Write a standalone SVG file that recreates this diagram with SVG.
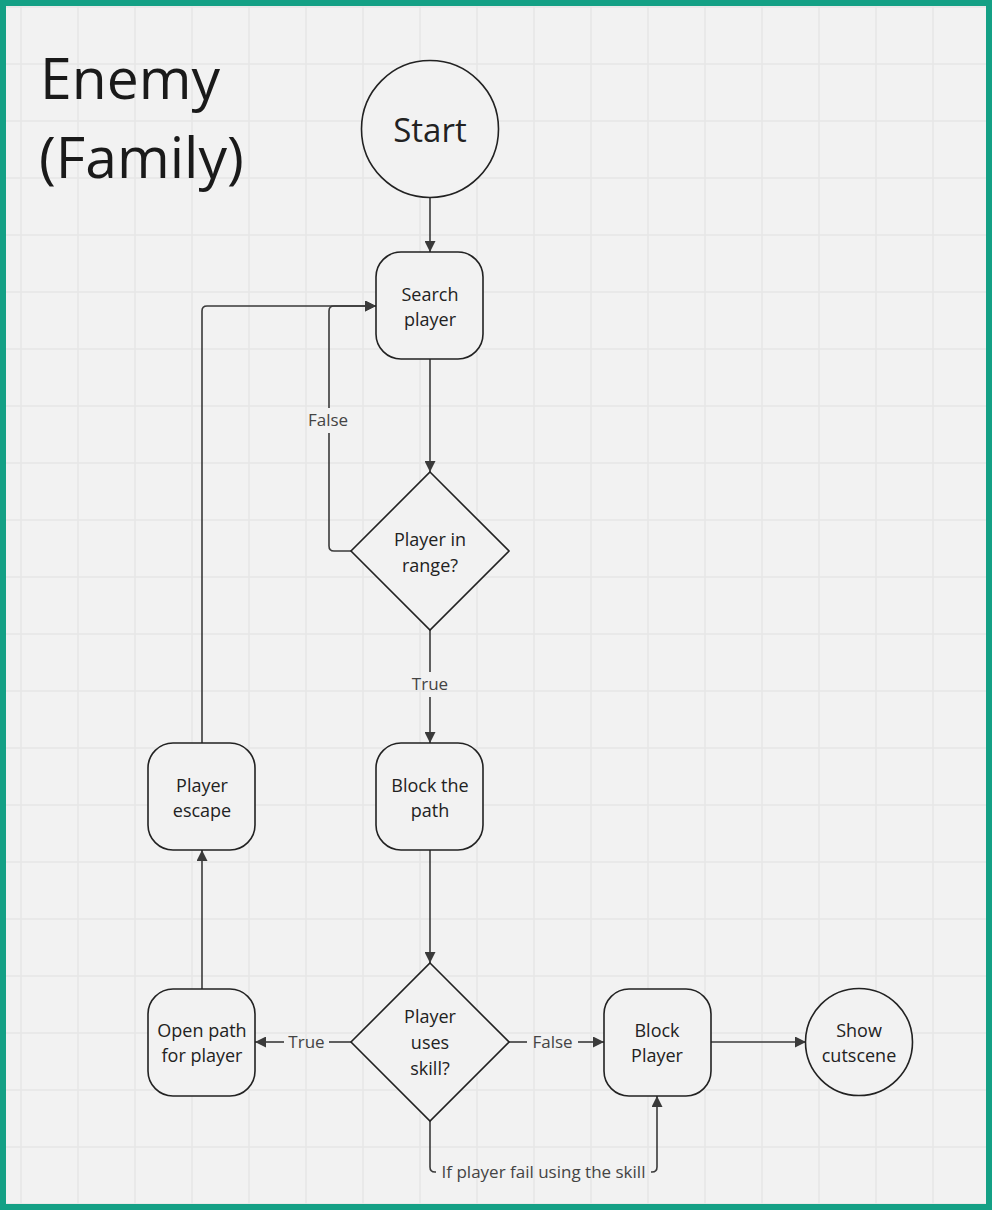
<svg xmlns="http://www.w3.org/2000/svg" width="992" height="1210" viewBox="0 0 992 1210">
<defs>
<style>
.bg{fill:#f2f2f2}
.grid{stroke:#e6e6e6;stroke-width:1.5;fill:none}
.frame{fill:none;stroke:#14a085;stroke-width:6}
.shape{fill:#f2f2f2;stroke:#222;stroke-width:1.6}
.txt{font-family:"Open Sans","Noto Sans","Liberation Sans",sans-serif;fill:#222;text-anchor:middle}
.n{font-size:18px}
.lbl{font-family:"Open Sans","Noto Sans","Liberation Sans",sans-serif;font-size:17px;fill:#444;text-anchor:middle}
.title{font-family:"Open Sans","Noto Sans","Liberation Sans",sans-serif;font-size:57px;fill:#1a1a1a}
.con{fill:none;stroke:#3a3a3a;stroke-width:1.6}
</style>
<marker id="ah" viewBox="0 0 10 10" refX="10" refY="5" markerWidth="11" markerHeight="11" markerUnits="userSpaceOnUse" orient="auto">
<path d="M0 0 L10 5 L0 10 Z" fill="#3a3a3a"/>
</marker>
</defs>
<rect class="bg" x="0" y="0" width="992" height="1210"/>
<g id="grid" class="grid">
<path d="M21 0V1210M78 0V1210M135 0V1210M192 0V1210M249 0V1210M306 0V1210M363 0V1210M420 0V1210M477 0V1210M534 0V1210M591 0V1210M648 0V1210M705 0V1210M762 0V1210M819 0V1210M876 0V1210M933 0V1210M990 0V1210"/>
<path d="M0 7H992M0 64H992M0 121H992M0 178H992M0 235H992M0 292H992M0 349H992M0 406H992M0 463H992M0 520H992M0 577H992M0 634H992M0 691H992M0 748H992M0 805H992M0 862H992M0 919H992M0 976H992M0 1033H992M0 1090H992M0 1147H992M0 1204H992"/>
</g>
<rect class="frame" x="3" y="3" width="986" height="1204"/>
<g id="title">
<text class="title" x="40" y="99">Enemy</text>
<text class="title" x="39" y="178">(Family)</text>
</g>
<g id="connectors">
<path class="con" d="M430 197V252" marker-end="url(#ah)"/>
<path class="con" d="M430 359V472" marker-end="url(#ah)"/>
<path class="con" d="M351 551H334Q329 551 329 546V433"/>
<path class="con" d="M329 408V311Q329 306 334 306H376" marker-end="url(#ah)"/>
<path class="con" d="M430 630V672"/>
<path class="con" d="M430 697V743" marker-end="url(#ah)"/>
<path class="con" d="M430 850V963" marker-end="url(#ah)"/>
<path class="con" d="M202 743V311Q202 306 207 306H376" marker-end="url(#ah)"/>
<path class="con" d="M202 989V850" marker-end="url(#ah)"/>
<path class="con" d="M351 1042H329"/>
<path class="con" d="M284 1042H255" marker-end="url(#ah)"/>
<path class="con" d="M509 1042H527"/>
<path class="con" d="M578 1042H604" marker-end="url(#ah)"/>
<path class="con" d="M711 1042H806" marker-end="url(#ah)"/>
<path class="con" d="M430 1121V1167Q430 1172 435 1172H436"/>
<path class="con" d="M651 1172H652Q657 1172 657 1167V1096" marker-end="url(#ah)"/>
<text class="lbl" x="328" y="426">False</text>
<text class="lbl" x="430" y="690">True</text>
<text class="lbl" x="306.5" y="1048">True</text>
<text class="lbl" x="552.5" y="1048">False</text>
<text class="lbl" x="543.5" y="1178">If player fail using the skill</text>
</g>
<g id="start">
<circle class="shape" cx="430" cy="129" r="68.5"/>
<text class="txt" x="430" y="142" font-size="33">Start</text>
</g>
<g id="search-player">
<rect class="shape" x="376" y="252" width="107" height="107" rx="25"/>
<text class="txt n" x="430" y="301">Search</text>
<text class="txt n" x="430" y="326">player</text>
</g>
<g id="player-in-range">
<polygon class="shape" points="430,472 509,551 430,630 351,551"/>
<text class="txt n" x="430" y="546">Player in</text>
<text class="txt n" x="430" y="572">range?</text>
</g>
<g id="block-the-path">
<rect class="shape" x="376" y="743" width="107" height="107" rx="25"/>
<text class="txt n" x="430" y="792">Block the</text>
<text class="txt n" x="430" y="817">path</text>
</g>
<g id="player-escape">
<rect class="shape" x="148" y="743" width="107" height="107" rx="25"/>
<text class="txt n" x="202" y="792">Player</text>
<text class="txt n" x="202" y="817">escape</text>
</g>
<g id="player-uses-skill">
<polygon class="shape" points="430,963 509,1042 430,1121 351,1042"/>
<text class="txt n" x="430" y="1023">Player</text>
<text class="txt n" x="430" y="1049">uses</text>
<text class="txt n" x="430" y="1075">skill?</text>
</g>
<g id="open-path">
<rect class="shape" x="148" y="989" width="107" height="107" rx="25"/>
<text class="txt n" x="202" y="1037">Open path</text>
<text class="txt n" x="202" y="1062">for player</text>
</g>
<g id="block-player">
<rect class="shape" x="604" y="989" width="107" height="107" rx="25"/>
<text class="txt n" x="657" y="1037">Block</text>
<text class="txt n" x="657" y="1062">Player</text>
</g>
<g id="show-cutscene">
<circle class="shape" cx="859" cy="1042" r="53.5"/>
<text class="txt n" x="859" y="1037">Show</text>
<text class="txt n" x="859" y="1062">cutscene</text>
</g>
</svg>
